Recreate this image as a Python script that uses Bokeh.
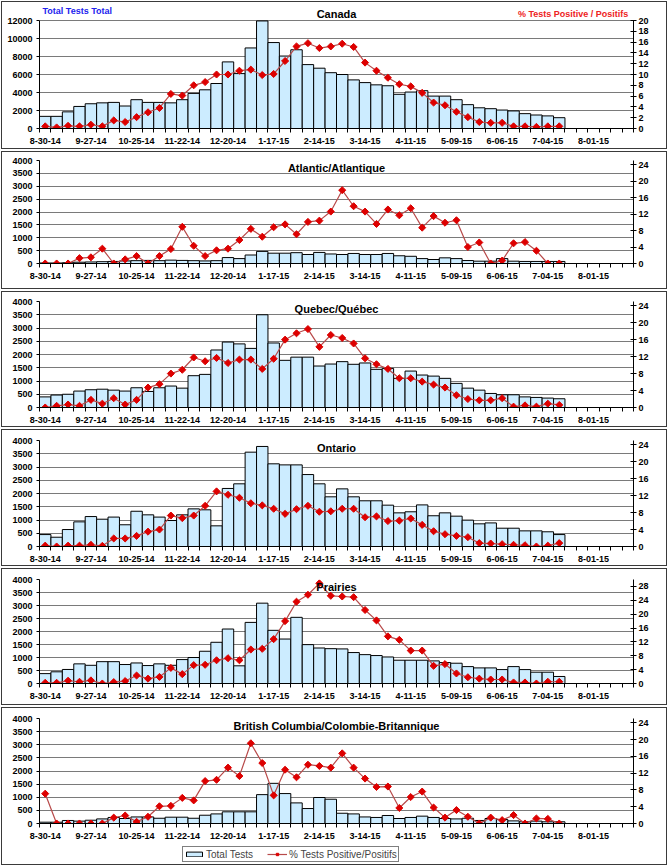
import math
from bokeh.plotting import figure
from bokeh.models import (Range1d, LinearAxis, FixedTicker, Label, Legend, LegendItem,
                          ColumnDataSource, Grid)
from bokeh.layouts import column
from bokeh.embed import file_html
from bokeh.resources import INLINE
from bokeh.core.properties import value

# ---------------- data ----------------
n_weeks = 52  # weekly categories 8-30-14 ... 8-22-15
tick_labels = ["8-30-14", "9-27-14", "10-25-14", "11-22-14", "12-20-14", "1-17-15",
               "2-14-15", "3-14-15", "4-11-15", "5-09-15", "6-06-15", "7-04-15", "8-01-15"]

canada_tests = [1350, 1350, 1850, 2450, 2750, 2850, 2900, 2500, 3200, 2900, 2900, 2850, 3200,
                3900, 4300, 5000, 7400, 6100, 8950, 11950, 9550, 8050, 8750, 7100, 6700, 6200,
                6000, 5400, 5100, 4850, 4750, 3800, 4050, 4200, 3600, 3600, 3200, 2650, 2300,
                2200, 2050, 1950, 1650, 1500, 1400, 1200]
canada_pct = [0.4, 0.2, 0.5, 0.4, 0.7, 0.4, 1.5, 1.2, 2.1, 3.0, 3.8, 6.4, 6.1, 8.0, 8.6, 10.0,
              10.0, 10.7, 10.9, 9.9, 10.1, 12.5, 15.2, 15.8, 14.9, 15.2, 15.7, 15.1, 12.2, 10.7,
              9.4, 8.2, 7.8, 6.6, 4.8, 4.3, 3.1, 2.1, 1.2, 1.05, 1.05, 0.4, 0.4, 0.3, 0.4, 0.4]

atl_tests = [20, 20, 30, 50, 60, 70, 80, 100, 110, 120, 110, 130, 120, 110, 100, 110, 230, 190,
             330, 470, 400, 400, 420, 350, 430, 370, 350, 390, 350, 350, 390, 300, 280, 190, 155,
             220, 190, 115, 90, 90, 190, 90, 80, 80, 80, 80]
atl_pct = [0, 0, 0, 1.3, 1.5, 3.6, 0, 1.0, 1.8, 0, 1.8, 3.5, 8.9, 4.3, 1.8, 3.2, 3.6, 5.7, 8.4,
           6.5, 8.8, 9.5, 7.1, 10.1, 10.4, 12.6, 17.8, 13.9, 12.6, 9.6, 13.1, 11.7, 13.4, 8.7,
           11.5, 9.9, 10.5, 4.0, 5.1, 0, 0.7, 4.9, 5.2, 3.1, 0, 0]

qc_tests = [400, 470, 500, 620, 670, 690, 655, 620, 745, 605, 745, 810, 730, 1200, 1250, 2170,
            2470, 2400, 2230, 3500, 2435, 1780, 1900, 1900, 1565, 1640, 1730, 1630, 1680, 1440,
            1475, 1100, 1375, 1225, 1185, 1100, 910, 730, 655, 530, 480, 480, 400, 380, 355, 330]
qc_pct = [0, 0.4, 0.7, 0.4, 1.8, 0.9, 2.2, 0.7, 1.8, 4.7, 5.5, 8.0, 8.9, 11.8, 10.9, 11.7, 10.5,
          11.3, 11.3, 9.1, 11.5, 16.0, 17.5, 18.5, 14.3, 17.1, 16.4, 15.1, 11.6, 10.2, 9.1, 6.9,
          6.9, 6.1, 5.4, 4.7, 2.9, 2.0, 1.7, 1.7, 2.2, 0.2, 0.5, 0.2, 0.9, 0.6]

on_tests = [450, 350, 640, 930, 1130, 1030, 1110, 820, 1330, 1195, 1110, 980, 1195, 1420, 1385,
            780, 2190, 2365, 3560, 3775, 3120, 3080, 3080, 2715, 2365, 1875, 2175, 1875, 1725,
            1725, 1560, 1270, 1310, 1570, 1160, 1270, 1145, 995, 855, 890, 690, 690, 590, 590,
            555, 450]
on_pct = [0.2, 0, 0.2, 0.2, 0.4, 0.15, 1.9, 1.9, 2.5, 3.5, 4.0, 7.3, 6.7, 7.3, 9.6, 13.0, 12.2,
          11.5, 10.2, 9.7, 8.9, 7.7, 8.8, 9.6, 8.2, 8.3, 8.9, 8.9, 6.9, 7.1, 6.0, 6.1, 6.6, 5.1,
          3.6, 2.9, 2.5, 2.2, 0.8, 0.7, 0.55, 0.4, 0.3, 0, 0.2, 0.8]

pr_tests = [380, 450, 540, 755, 700, 840, 840, 730, 790, 690, 755, 700, 920, 1000, 1240, 1585,
            2095, 680, 2350, 3090, 2045, 1710, 2545, 1495, 1365, 1340, 1330, 1190, 1110, 1075,
            1020, 895, 895, 895, 870, 805, 780, 650, 600, 600, 535, 650, 535, 435, 435, 270]
pr_pct = [0.2, 0.2, 0.8, 0.5, 0.9, 0, 0.4, 0.7, 2.3, 1.4, 1.9, 4.5, 2.7, 5.3, 5.4, 6.7, 7.3, 6.7,
          9.8, 10.0, 12.8, 18.0, 23.6, 25.6, 28.9, 25.3, 25.1, 24.9, 21.2, 18.2, 13.6, 12.6, 9.5,
          9.5, 5.1, 5.6, 2.9, 1.8, 1.4, 1.15, 1.15, 0.3, 0.3, 0, 0.5, 0.5]

bc_tests = [50, 50, 115, 90, 125, 175, 230, 190, 250, 250, 200, 240, 240, 200, 315, 365, 445, 445,
            445, 1100, 1530, 1140, 785, 570, 990, 925, 390, 365, 250, 230, 305, 190, 230, 280,
            230, 190, 175, 200, 115, 190, 150, 100, 65, 90, 65, 65]
bc_pct = [7.1, 0, 0, 0, 0, 0, 1.4, 1.9, 0.4, 1.6, 4.1, 4.2, 6.1, 5.5, 10.1, 10.4, 13.3, 11.3,
          19.1, 14.4, 6.7, 12.8, 11.0, 14.0, 13.7, 13.3, 16.7, 13.3, 10.7, 8.7, 8.8, 3.7, 6.3,
          7.6, 3.8, 1.4, 3.2, 1.6, 0, 1.4, 0.8, 2.0, 0, 1.2, 1.1, 0]

# ---------------- style ----------------
FONT = "Liberation Sans"
W = 668
BL = 39
FW = 594
BR = W - BL - FW
BAR_FILL = "#CCECFF"
LINE_COL = "#B84A4A"
MARK_COL = "#DD0000"
FRAME = {"outline": "1px solid #3a3a3a", "outline-offset": "-2px"}


def clear_fills(f):
    f.border_fill_alpha = 0
    f.background_fill_alpha = 0


def axis_style(ax):
    ax.axis_line_color = "black"
    ax.major_label_text_font = FONT
    ax.major_label_text_font_size = "9px"
    ax.major_label_text_font_style = "bold"
    ax.major_label_text_color = "black"


def panel(tests, pct, title, lmax, lstep, rmax, rstep, h, bt, fh, bb,
          extra_top_px=0, title_inside=True):
    # the frame may reach above the top of the value axes (Canada: room for its titles)
    k = (fh + extra_top_px) / fh
    p = figure(width=W, height=h, output_backend="svg", toolbar_location=None,
               x_range=Range1d(-0.5, n_weeks - 0.5), y_range=Range1d(0, lmax * k),
               x_axis_type=None, y_axis_type=None,
               min_border_left=BL, min_border_right=BR,
               min_border_top=bt - extra_top_px, min_border_bottom=bb)
    p.outline_line_color = None
    clear_fills(p)
    p.extra_y_ranges = {"pct": Range1d(0, rmax * k)}

    xs = list(range(len(tests)))
    src = ColumnDataSource(dict(x=xs, tests=tests, pct=pct))

    tick_pos = [4 * i for i in range(len(tick_labels))]
    xax = LinearAxis(ticker=FixedTicker(ticks=tick_pos,
                                        minor_ticks=[j - 0.5 for j in range(n_weeks + 1)]))
    xax.major_label_overrides = {tp: lab for tp, lab in zip(tick_pos, tick_labels)}
    xax.major_tick_line_color = None
    xax.major_tick_out = 0
    xax.major_tick_in = 0
    xax.minor_tick_out = 4
    xax.minor_tick_in = 0
    xax.minor_tick_line_color = "black"
    xax.major_label_standoff = 5
    axis_style(xax)
    p.add_layout(xax, "below")

    lticks = FixedTicker(ticks=[lstep * i for i in range(int(lmax // lstep) + 1)])
    yax = LinearAxis(ticker=lticks, bounds=(0, lmax))
    yax.major_tick_out = 3
    yax.major_tick_in = 0
    yax.minor_tick_line_color = None
    yax.major_label_standoff = 4
    axis_style(yax)
    p.add_layout(yax, "left")

    rticks = FixedTicker(ticks=[rstep * i for i in range(int(rmax // rstep) + 1)])
    rax = LinearAxis(y_range_name="pct", ticker=rticks, bounds=(0, rmax))
    rax.major_tick_out = 3
    rax.major_tick_in = 3
    rax.minor_tick_line_color = None
    rax.major_label_standoff = 2
    axis_style(rax)
    p.add_layout(rax, "right")

    p.add_layout(Grid(dimension=1, ticker=lticks, grid_line_color="#7a7a7a",
                      grid_line_width=1))

    bars = p.vbar(x="x", top="tests", width=1.0, bottom=0, source=src,
                  fill_color=BAR_FILL, line_color="black", line_width=1)
    ln = p.line(x="x", y="pct", source=src, y_range_name="pct", line_color=LINE_COL,
                line_width=1.2)
    mk = p.scatter(x="x", y="pct", source=src, y_range_name="pct", marker="square",
                   angle=math.pi / 4, size=5, fill_color=MARK_COL, line_color=MARK_COL)

    if title_inside:
        p.add_layout(Label(x=25.5, y=lmax * (1 - 1.0 / fh), text=title, text_align="center",
                           text_baseline="top", text_font=FONT, text_font_size="11px",
                           text_font_style="bold", text_color="black"))
    return p, src


# Canada: frame reaches 18 px above the 12000 line so that its titles sit inside it
p1, _ = panel(canada_tests, canada_pct, "Canada", 12000, 2000, 20, 2, 150, 20, 108, 22,
              extra_top_px=18, title_inside=False)
ppx = 12000 / 108.0
p1.text(x=[25.5], y=[12000 + 6.2 * ppx], text=["Canada"], text_align="center",
        text_baseline="middle", text_font=value(FONT), text_font_size="11px",
        text_font_style="bold", text_color="black")
p1.text(x=[-0.24], y=[12000 + 10 * ppx], text=["Total Tests Total"], text_align="left",
        text_baseline="middle", text_font=value(FONT), text_font_size="9px",
        text_font_style="bold", text_color="#2222EE")
p1.text(x=[51.05], y=[12000 + 7 * ppx], text=["% Tests Positive / Positifs"],
        text_align="right", text_baseline="middle", text_font=value(FONT),
        text_font_size="9px", text_font_style="bold", text_color="#EE2222")

p2, _ = panel(atl_tests, atl_pct, "Atlantic/Atlantique", 4000, 500, 25, 4, 140, 10, 103, 27)
p3, _ = panel(qc_tests, qc_pct, "Quebec/Québec", 4000, 500, 25, 4, 138, 11, 106, 21)
p4, _ = panel(on_tests, on_pct, "Ontario", 4000, 500, 25, 4, 139, 12, 106, 21)
p5, _ = panel(pr_tests, pr_pct, "Prairies", 4000, 500, 30, 4, 139, 12, 104, 23)
p6, bc_src = panel(bc_tests, bc_pct, "British Columbia/Colombie-Britannique", 4000, 500,
                   25, 4, 139, 12, 105, 22)

# footer strip with the legend (its own hidden copies of the BC series feed the swatches)
ftr = figure(width=W, height=21, output_backend="svg", toolbar_location=None,
             x_range=Range1d(-0.5, n_weeks - 0.5), y_range=Range1d(0, 21),
             x_axis_type=None, y_axis_type=None,
             min_border_left=BL, min_border_right=BR, min_border_top=0, min_border_bottom=0)
ftr.outline_line_color = None
ftr.xgrid.visible = False
ftr.ygrid.visible = False
clear_fills(ftr)
lb = ftr.vbar(x="x", top="tests", width=1.0, bottom=0, source=bc_src,
              fill_color=BAR_FILL, line_color="black", line_width=1, visible=False)
ll = ftr.line(x="x", y="pct", source=bc_src, line_color=LINE_COL, line_width=1.2,
              visible=False)
lm = ftr.scatter(x="x", y="pct", source=bc_src, marker="square", angle=math.pi / 4, size=5,
                 fill_color=MARK_COL, line_color=MARK_COL, visible=False)
legend = Legend(items=[LegendItem(label="Total Tests", renderers=[lb]),
                       LegendItem(label="% Tests Positive/Positifs", renderers=[ll, lm])],
                orientation="horizontal", location=(143, 4))
legend.border_line_color = "black"
legend.border_line_width = 1
legend.background_fill_color = "white"
legend.background_fill_alpha = 1
legend.inactive_fill_alpha = 0
legend.label_text_font = FONT
legend.label_text_font_size = "10px"
legend.label_height = 12
legend.label_width = 10
legend.glyph_width = 20
legend.glyph_height = 6
legend.padding = 1
legend.spacing = 14
legend.margin = 0
legend.label_standoff = 2
ftr.add_layout(legend)

for f in (p1, p2, p3, p4, p5):
    f.styles = FRAME

layout = column(p1, p2, p3, p4, p5, column(p6, ftr, spacing=0, styles=FRAME), spacing=0)
open("out.html", "w").write(file_html(layout, INLINE))
